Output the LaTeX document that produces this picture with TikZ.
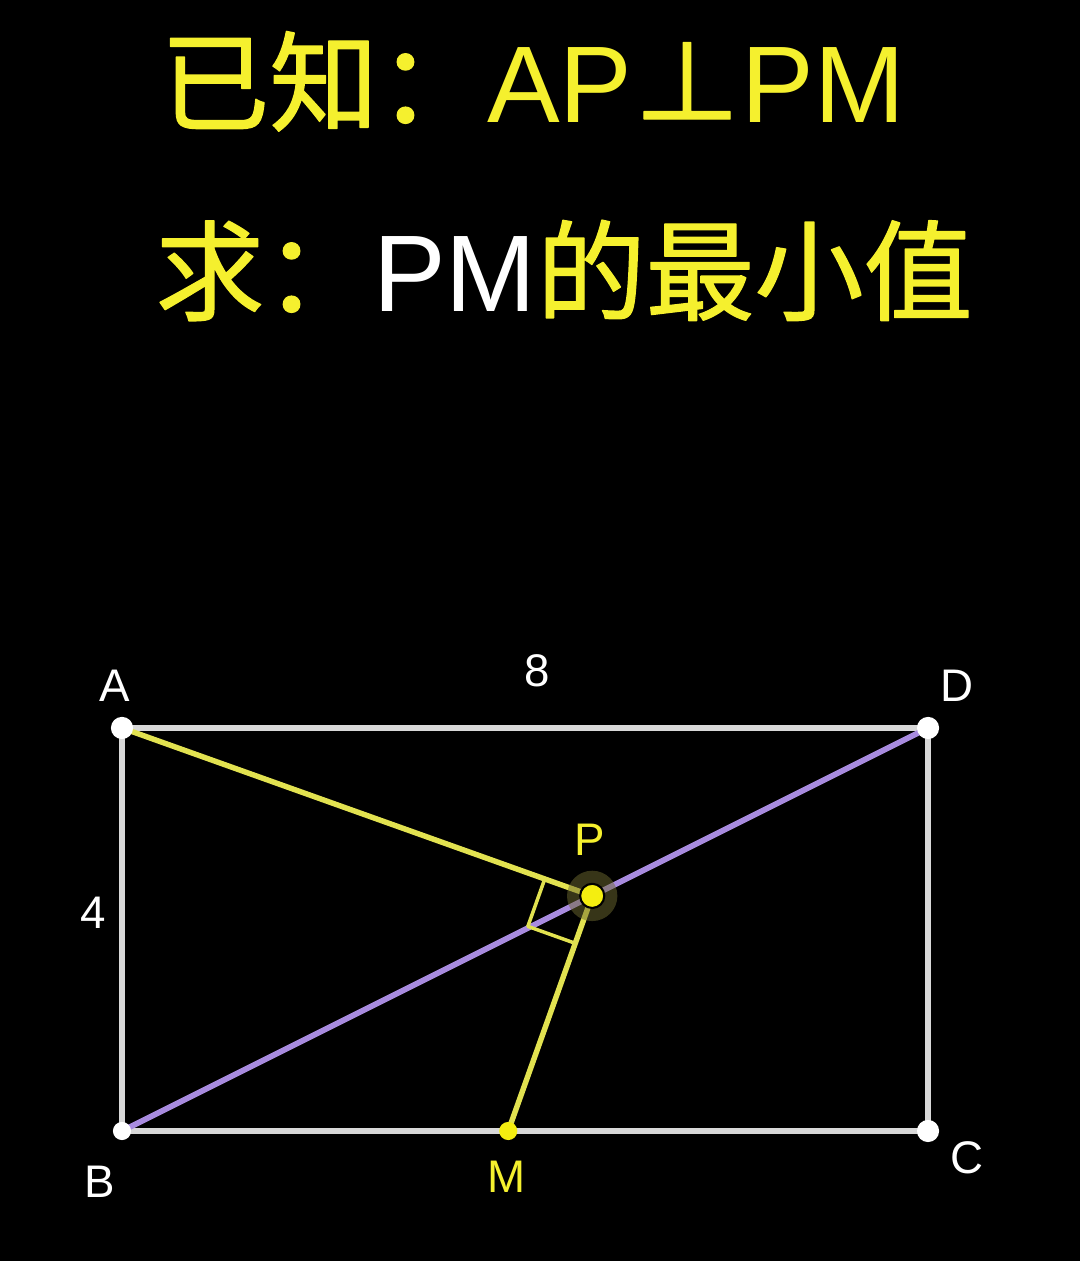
\documentclass[tikz,border=0pt]{standalone}
\usepackage{fontspec}
\setmainfont{Liberation Sans}
\newfontfamily\cjkfont{Noto Sans CJK SC}[FakeBold=1.2]
\usetikzlibrary{calc}
\definecolor{titleyellow}{HTML}{F5F02E}
\definecolor{edgegray}{HTML}{D8D8D8}
\definecolor{diagpurple}{HTML}{A88BDF}
\definecolor{segyellow}{HTML}{E2E250}
\definecolor{dotyellow}{HTML}{F4EE10}
\definecolor{halo}{HTML}{6E6A30}
\newcommand{\lat}[1]{{\rmfamily #1}}

\begin{document}
\begin{tikzpicture}[line cap=round,line join=round]
\tikzstyle{side}=[draw=edgegray,line width=3.3pt]
\tikzstyle{diag}=[draw=diagpurple,line width=3.3pt]
\tikzstyle{seg}=[draw=segyellow,line width=3.1pt]
\tikzstyle{rightmark}=[draw=segyellow,line width=2pt]
\tikzstyle{lbl}=[text=white,inner sep=0pt,font=\fontsize{26}{26}\selectfont]
\tikzstyle{title}=[anchor=base west,inner sep=0pt,text=titleyellow,font=\fontsize{62}{70}\selectfont]
\fill[black] (0,0) rectangle (21.6,25.22);
% question text
\node[title] (given) at (3.2,22.76) {\cjkfont 已知：\lat{AP}⊥\lat{PM}};
\node[title] (ask) at (3.1,18.98) {\cjkfont 求：\textcolor{white}{\lat{PM}}的最小值};
\begin{scope}[shift={(2.44,2.60)},scale=2.015]
\coordinate (B) at (0,0);
\coordinate (C) at (8,0);
\coordinate (D) at (8,4);
\coordinate (A) at (0,4);
\coordinate (P) at (14/3,7/3);
\coordinate (M) at (23/6,0);
% rectangle and diagonal
\draw[side] (A) -- (D) -- (C) -- (B) -- cycle;
\draw[diag] (B) -- (D);
\draw[seg] (A) -- (P) -- (M);
% right angle at P
\coordinate (Pa) at ($(P)!0.5cm!(A)$);
\coordinate (Pm) at ($(P)!0.5cm!(M)$);
\draw[rightmark] (Pa) -- ($(Pa)+(Pm)-(P)$) -- (Pm);
% points
\fill[halo,opacity=0.5] (P) circle (0.25);
\fill[white] (A) circle (0.11) (D) circle (0.11) (C) circle (0.11) (B) circle (0.09);
\fill[dotyellow] (M) circle (0.09);
\filldraw[fill=dotyellow,draw=black,line width=1.2pt] (P) circle (0.12);
% labels
\node[lbl] (la) at (-0.07,4.417) {A};
\node[lbl] (ld) at (8.29,4.417) {D};
\node[lbl] (lb) at (-0.22,-0.506) {B};
\node[lbl] (lc) at (8.39,-0.268) {C};
\node[lbl,text=titleyellow] (lm) at (3.82,-0.457) {M};
\node[lbl,text=titleyellow] (lp) at (4.645,2.888) {P};
\node[lbl] (top) at (4.12,4.566) {8};
\node[lbl] (left) at (-0.288,2.164) {4};
\end{scope}
\end{tikzpicture}
\end{document}
